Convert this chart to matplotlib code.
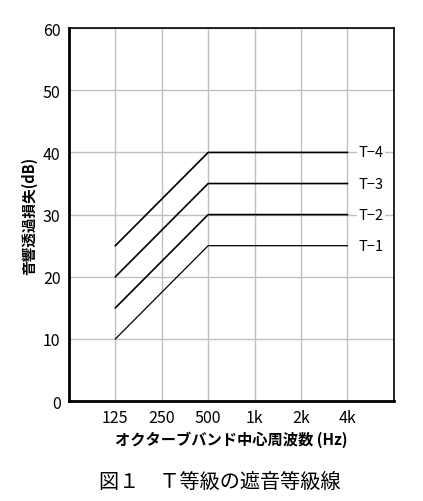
import numpy as np
import matplotlib.pyplot as plt

plt.rcParams['font.family'] = ['Liberation Sans Narrow', 'Noto Sans CJK JP', 'DejaVu Sans']

bands = ['125', '250', '500', '1k', '2k', '4k']
series = {
    'T−1': [10, 17.5, 25, 25, 25, 25],
    'T−2': [15, 22.5, 30, 30, 30, 30],
    'T−3': [20, 27.5, 35, 35, 35, 35],
    'T−4': [25, 32.5, 40, 40, 40, 40],
}
yticks = [0, 10, 20, 30, 40, 50, 60]

fig = plt.figure(figsize=(4.23, 5.02), dpi=100)
ax = fig.add_axes([0.163, 0.199, 0.768, 0.743])

x = np.arange(1, len(bands) + 1)
for name, vals in series.items():
    lw = 0.9 if name == 'T−1' else 1.2
    ax.plot(x, vals, color='black', lw=lw, zorder=3)
    ax.text(6.5, vals[-1], name, ha='center', va='center', fontsize=10.5,
            bbox=dict(facecolor='white', edgecolor='none', pad=1), zorder=4)

ax.set_xlim(0, 7)
ax.set_ylim(0, 60)
ax.set_xticks(x)
ax.set_xticklabels(bands)
ax.set_yticks(yticks)
ax.tick_params(length=0, labelsize=11.5, pad=6)
ax.grid(color='#c0c0c0', lw=1)
ax.set_axisbelow(True)
for side, w in [('left', 2), ('bottom', 2), ('right', 1.2), ('top', 1.2)]:
    ax.spines[side].set_linewidth(w)
    ax.spines[side].set_color('black')

jp = ['Noto Sans CJK JP', 'DejaVu Sans']
ax.set_xlabel('オクターブバンド中心周波数 (Hz)', family=jp, fontweight='bold', fontsize=11, labelpad=3)
ax.set_ylabel('音響透過損失(dB)', family=jp, fontweight='bold', fontsize=10.5, labelpad=4)
fig.text(0.52, 0.038, '図１　Ｔ等級の遮音等級線', family=jp, fontsize=14.5, ha='center', va='center')

fig.savefig('out.png', dpi=100)
